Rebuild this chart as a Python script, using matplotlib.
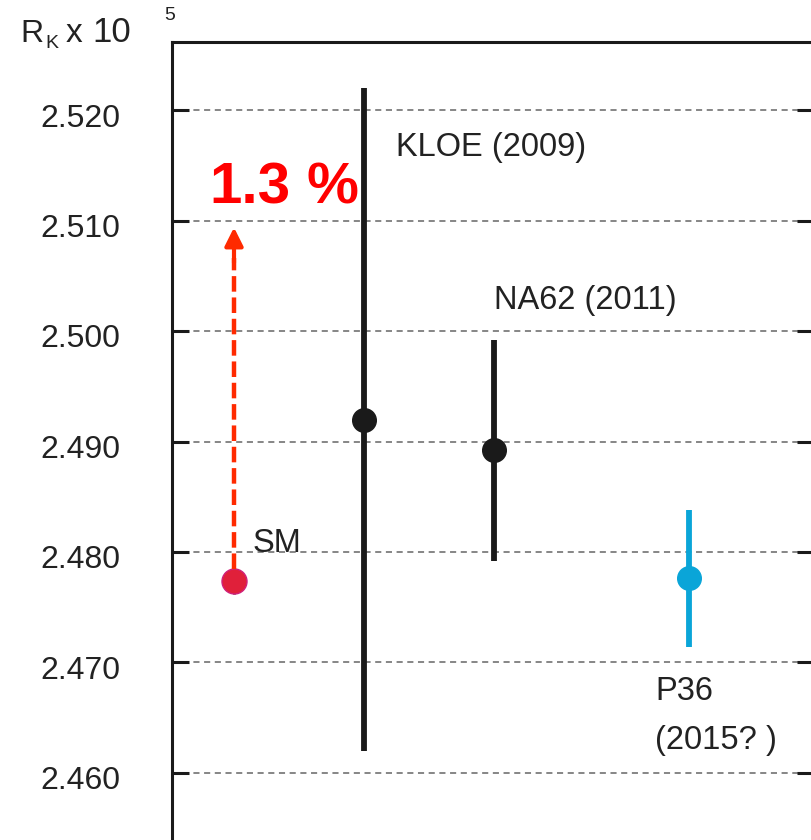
import numpy as np
import matplotlib
matplotlib.use("Agg")
import matplotlib.pyplot as plt

plt.rcParams['font.family'] = ['Liberation Sans', 'DejaVu Sans']

# measurements of R_K x 10^5
names = ["SM", "KLOE (2009)", "NA62 (2011)", "P36"]
xpos = [1, 2, 3, 4.5]
values = [2.4774, 2.4920, 2.4892, 2.4776]
errors = [0.0012, 0.0300, 0.0100, 0.0062]
yticks = [2.460, 2.470, 2.480, 2.490, 2.500, 2.510, 2.520]
arrow_top = 2.5094

W, H = 812, 840
fig = plt.figure(figsize=(W / 100, H / 100), dpi=100)
ax = fig.add_axes([172 / W, 1 - 850 / H, (814 - 172) / W, (850 - 42) / H])
ax.set_xlim(1 - 62 / 130, 1 + (814 - 234) / 130)
ax.set_ylim(2.4530, 2.5262)

for y in yticks:
    ax.axhline(y, color='#666666', lw=1.1, ls=(0, (4, 3)), zorder=1)

txtc = '#222222'
fs = 23.5
# SM
ax.errorbar(xpos[0], values[0], yerr=errors[0], fmt='o', color='#1a1a1a',
            elinewidth=2, ms=18, mfc='#e0203a', mec='#d0207a', zorder=4)
# KLOE, NA62
for i in (1, 2):
    ax.errorbar(xpos[i], values[i], yerr=errors[i], fmt='o', color='#1a1a1a',
                elinewidth=4.2, ms=17, zorder=3)
# P36
ax.errorbar(xpos[3], values[3], yerr=errors[3], fmt='o', color='#0aa5d8',
            elinewidth=4.2, ms=17, zorder=3)

# 1.3 % arrow
ax.plot([xpos[0], xpos[0]], [values[0] + 0.0011, arrow_top - 0.0028],
        color='#ff2a00', lw=3.2, ls=(0, (3.5, 1.3)), zorder=5)
ax.annotate('', xy=(xpos[0], arrow_top), xytext=(xpos[0], arrow_top - 0.0032),
            arrowprops=dict(arrowstyle='-|>,head_length=1.1,head_width=0.55',
                            color='#ff2a00', lw=3, shrinkA=0, shrinkB=0), zorder=5)
ax.text(0.81, 2.5116, '1.3', color='#ff0000', fontsize=42,
        fontweight='bold', ha='left', va='baseline')
ax.text(1.56, 2.5116, '%', color='#ff0000', fontsize=42,
        fontweight='bold', ha='left', va='baseline')

ax.text(2.25, 2.5166, names[1], fontsize=fs, color=txtc, va='center')
ax.text(3.0, 2.5028, names[2], fontsize=fs, color=txtc, va='center')
ax.text(1.14, 2.4808, names[0], fontsize=fs, color=txtc, va='center')
ax.text(4.238, 2.4674, names[3], fontsize=fs, color=txtc, va='center')
ax.text(4.238, 2.4629, '(2015? )', fontsize=fs, color=txtc, va='center')

ax.set_xticks([])
ax.set_yticks(yticks)
ax.set_yticklabels([])
# tick labels sit a little below their ticks in the original
for v in yticks:
    ax.text(-0.081, v - 0.00075, '%.3f' % v, fontsize=23, color=txtc,
            ha='right', va='center', transform=ax.get_yaxis_transform())
ax.tick_params(axis='y', direction='in', length=12, width=2.2,
               right=True, color='#1a1a1a')
for s in ax.spines.values():
    s.set_linewidth(2.2)
    s.set_color('#1a1a1a')

# axis title R_K x 10^5
fig.text(20 / W, 1 - 42 / H, 'R', fontsize=23, color=txtc, va='baseline')
fig.text(45 / W, 1 - 48 / H, 'K', fontsize=14, color=txtc, va='baseline')
fig.text(66 / W, 1 - 42 / H, 'x', fontsize=24, color=txtc, va='baseline')
fig.text(92 / W, 1 - 42 / H, '10', fontsize=25, color=txtc, va='baseline')
fig.text(164 / W, 1 - 20 / H, '5', fontsize=14, color=txtc, va='baseline')

fig.savefig('out.png', dpi=100)
